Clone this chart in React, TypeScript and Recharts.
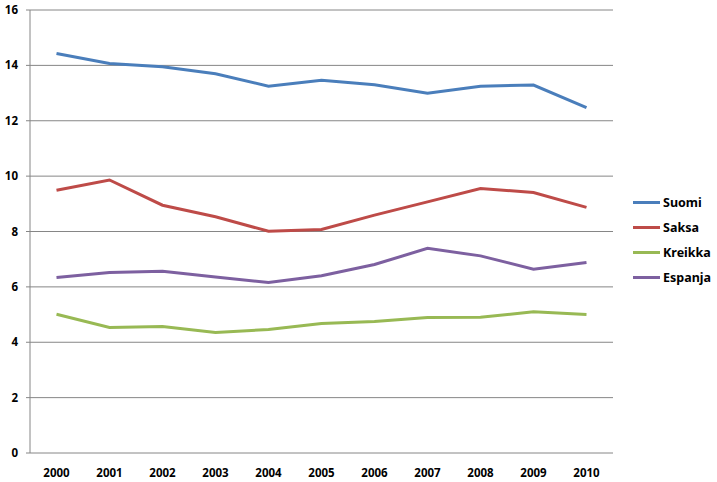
import { CartesianGrid, Line, LineChart, XAxis, YAxis } from 'recharts'

const years = [2000, 2001, 2002, 2003, 2004, 2005, 2006, 2007, 2008, 2009, 2010]
const suomi = [14.43, 14.07, 13.95, 13.7, 13.25, 13.46, 13.3, 12.99, 13.25, 13.29, 12.47]
const saksa = [9.49, 9.86, 8.95, 8.53, 8.01, 8.07, 8.59, 9.07, 9.55, 9.41, 8.87]
const kreikka = [5.01, 4.53, 4.57, 4.35, 4.46, 4.68, 4.75, 4.89, 4.9, 5.1, 5.0]
const espanja = [6.34, 6.52, 6.56, 6.36, 6.16, 6.4, 6.81, 7.39, 7.12, 6.64, 6.88]
const yTicks = [0, 2, 4, 6, 8, 10, 12, 14, 16]

const data = years.map((year, i) => ({
  year,
  Suomi: suomi[i],
  Saksa: saksa[i],
  Kreikka: kreikka[i],
  Espanja: espanja[i],
}))

// tick marks sit between the categories, like Excel
const edges = [...years.map((y) => y - 0.5), years[years.length - 1] + 0.5]

const font = '"Noto Sans", sans-serif'
const gridColor = '#868686'

const series = [
  { key: 'Suomi', color: '#4A7EBB' },
  { key: 'Saksa', color: '#BE4B48' },
  { key: 'Kreikka', color: '#98B954' },
  { key: 'Espanja', color: '#7D60A0' },
]

function LegendBox() {
  return (
    <div
      style={{
        position: 'absolute',
        left: 633,
        top: 190,
        fontFamily: font,
        fontWeight: 700,
        fontSize: 12.5,
        color: '#000',
      }}
    >
      {series.map((s) => (
        <div key={s.key} style={{ display: 'flex', alignItems: 'center', height: 25 }}>
          <span style={{ display: 'inline-block', width: 27, height: 3, background: s.color, marginRight: 3 }} />
          {s.key}
        </div>
      ))}
    </div>
  )
}

export default function App() {
  return (
    <div style={{ position: 'absolute', left: 0, top: 0, width: 717, height: 482, background: '#fff' }}>
      <LineChart width={717} height={482} data={data} margin={{ top: 10, right: 104, left: 0, bottom: 0 }}>
        <CartesianGrid vertical={false} stroke={gridColor} />
        <XAxis
          xAxisId="edges"
          type="number"
          dataKey="year"
          domain={[edges[0], edges[edges.length - 1]]}
          ticks={edges}
          tickFormatter={() => ''}
          height={0}
          tickSize={4}
          stroke={gridColor}
          axisLine={{ stroke: gridColor }}
        />
        <XAxis
          type="number"
          dataKey="year"
          domain={[edges[0], edges[edges.length - 1]]}
          ticks={years}
          tickLine={false}
          axisLine={false}
          height={29}
          tickMargin={10}
          tick={{ fill: '#000', fontFamily: font, fontWeight: 700, fontSize: 11.5 }}
        />
        <YAxis
          domain={[0, 16]}
          ticks={yTicks}
          width={30}
          tickSize={4}
          tickMargin={8}
          stroke={gridColor}
          tick={{ fill: '#000', fontFamily: font, fontWeight: 700, fontSize: 11.5 }}
        />
        {series.map((s) => (
          <Line
            key={s.key}
            type="linear"
            dataKey={s.key}
            stroke={s.color}
            strokeWidth={3}
            dot={false}
            isAnimationActive={false}
          />
        ))}
      </LineChart>
      <LegendBox />
    </div>
  )
}
